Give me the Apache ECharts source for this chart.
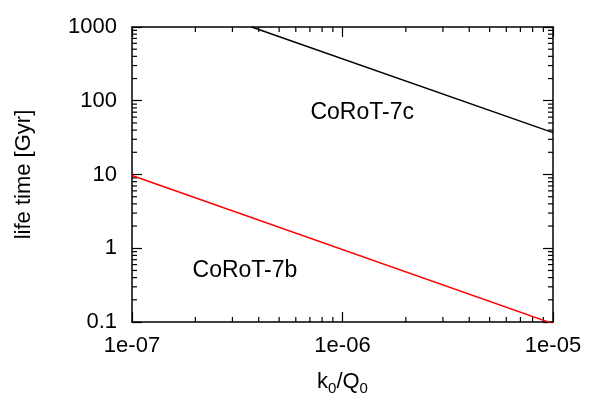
<!DOCTYPE html>
<html><head><meta charset="utf-8">
<script src="https://cdn.jsdelivr.net/npm/echarts@6/dist/echarts.min.js"></script>
<style>html,body{margin:0;padding:0;background:#fff}#c{width:593px;height:415px}</style>
</head><body><div id="c"></div>
<script>
const xTicks = [1e-7, 1e-6, 1e-5];
const yTicks = [0.1, 1, 10, 100, 1000];
const corot7b = [[1e-7, 9.7], [1e-5, 0.095]];
const corot7c = [[3.7e-7, 1000], [1e-5, 37]];
const labelNames = ['CoRoT-7c', 'CoRoT-7b'];
const labelPos = [[1.24e-6, 70], [3.44e-7, 0.49]];

const FONT = 'Liberation Sans, Arial, sans-serif';
const fmtX = v => {
  const e = Math.round(Math.log10(v));
  return '1e' + (e < 0 ? '-' : '+') + String(Math.abs(e)).padStart(2, '0');
};
const chart = echarts.init(document.getElementById('c'), null, {renderer: 'canvas'});
const axisLine = {show: true, lineStyle: {color: '#000', width: 1.5}};
const tick = {show: true, inside: true, length: 10, lineStyle: {color: '#000', width: 1.2}};
chart.setOption({
  animation: false,
  backgroundColor: '#fff',
  grid: {left: 132, right: 40, top: 27, bottom: 93, containLabel: false},
  xAxis: [{
    type: 'log', logBase: 10, min: xTicks[0], max: xTicks[xTicks.length - 1],
    axisLine, axisTick: tick, splitLine: {show: false},
    axisLabel: {formatter: fmtX, color: '#000', fontFamily: FONT, fontSize: 22, margin: 13},
    name: '{m|k}{s|0}{m|/Q}{s|0}', nameLocation: 'middle', nameGap: 46,
    nameTextStyle: {rich: {
      m: {fontFamily: FONT, fontSize: 22, color: '#000'},
      s: {fontFamily: FONT, fontSize: 15, color: '#000', verticalAlign: 'bottom', padding: [13, 0, 0, 0]}
    }}
  }, {
    type: 'log', logBase: 10, position: 'top', min: xTicks[0], max: xTicks[xTicks.length - 1],
    axisLine, axisTick: tick, axisLabel: {show: false}, splitLine: {show: false}
  }],
  yAxis: [{
    type: 'log', logBase: 10, min: yTicks[0], max: yTicks[yTicks.length - 1],
    axisLine, axisTick: tick, splitLine: {show: false},
    axisLabel: {formatter: v => String(+v.toPrecision(6)), color: '#000', fontFamily: FONT, fontSize: 22, margin: 15},
    name: 'life time [Gyr]', nameLocation: 'middle', nameGap: 97, nameRotate: 90,
    nameTextStyle: {fontFamily: FONT, fontSize: 22, color: '#000'}
  }, {
    type: 'log', logBase: 10, position: 'right', min: yTicks[0], max: yTicks[yTicks.length - 1],
    axisLine, axisTick: tick, axisLabel: {show: false}, splitLine: {show: false}
  }],
  series: [{
    name: 'CoRoT-7b', type: 'line', data: corot7b, symbol: 'none',
    lineStyle: {color: '#ff0000', width: 1.5}, clip: true
  }, {
    name: 'CoRoT-7c', type: 'line', data: corot7c, symbol: 'none',
    lineStyle: {color: '#000', width: 1.5}, clip: true
  }]
});

const els = [];
// in-plot labels, placed in data coordinates
labelPos.forEach((p, i) => {
  const [px, py] = chart.convertToPixel({gridIndex: 0}, p);
  els.push({type: 'text', x: px, y: py, silent: true,
    style: {text: labelNames[i], fill: '#000', font: '23px ' + FONT, align: 'center', verticalAlign: 'middle'}});
});
// minor ticks (2..9 per decade), drawn on all four sides
const g = chart.getModel().getComponent('grid').coordinateSystem.getRect();
const minorLen = 5;
for (let e = -7; e < -5; e++) {
  for (let k = 2; k <= 9; k++) {
    const px = chart.convertToPixel({xAxisIndex: 0}, k * Math.pow(10, e));
    els.push({type: 'line', shape: {x1: px, y1: g.y + g.height, x2: px, y2: g.y + g.height - minorLen}, style: {stroke: '#000', lineWidth: 1.2}, silent: true});
    els.push({type: 'line', shape: {x1: px, y1: g.y, x2: px, y2: g.y + minorLen}, style: {stroke: '#000', lineWidth: 1.2}, silent: true});
  }
}
for (let e = -1; e < 3; e++) {
  for (let k = 2; k <= 9; k++) {
    const py = chart.convertToPixel({yAxisIndex: 0}, k * Math.pow(10, e));
    els.push({type: 'line', shape: {x1: g.x, y1: py, x2: g.x + minorLen, y2: py}, style: {stroke: '#000', lineWidth: 1.2}, silent: true});
    els.push({type: 'line', shape: {x1: g.x + g.width, y1: py, x2: g.x + g.width - minorLen, y2: py}, style: {stroke: '#000', lineWidth: 1.2}, silent: true});
  }
}
chart.setOption({graphic: els});
</script>
</body></html>
